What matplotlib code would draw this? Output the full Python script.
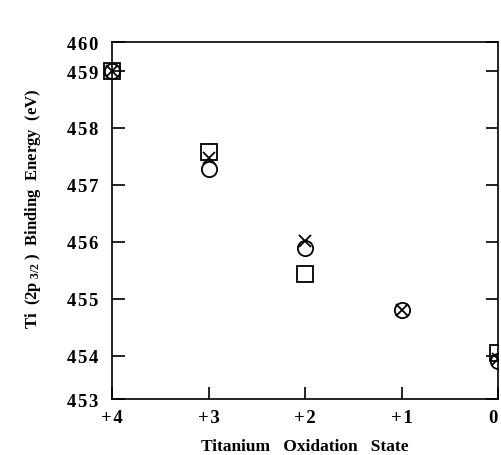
import matplotlib
matplotlib.use('Agg')
import matplotlib.pyplot as plt

# oxidation states and Ti 2p3/2 binding energies (eV)
states = [4, 3, 2, 1, 0]
circle_vals = [459.0, 457.28, 455.9, 454.8, 453.9]
square_vals = [459.0, 457.57, 455.44, None, 454.05]
cross_vals = [459.0, 457.47, 456.02, 454.8, 453.95]

x_ticks = [4, 3, 2, 1, 0]
x_labels = ['+4', '+3', '+2', '+1', '0']
y_ticks = [453.24, 454, 455, 456, 457, 458, 459, 459.51]
y_labels = ['453', '454', '455', '456', '457', '458', '459', '460']

plt.rcParams['font.family'] = ['Liberation Serif', 'DejaVu Serif']
plt.rcParams['font.weight'] = 'bold'
plt.rcParams['axes.labelweight'] = 'bold'
plt.rcParams['mathtext.fontset'] = 'custom'
plt.rcParams['mathtext.rm'] = 'Liberation Serif:bold'
plt.rcParams['mathtext.it'] = 'Liberation Serif:bold'


def spaced(s):
    # the original typesetting is slightly letter-spaced
    return '\u200a'.join(s)


fig = plt.figure(figsize=(5.01, 4.56), dpi=100)
ax = fig.add_axes([0.2236, 0.1228, 0.7705, 0.7829])

for vals, mk, ms in [(circle_vals, 'o', 11), (square_vals, 's', 11), (cross_vals, 'x', 9)]:
    xs = [s for s, v in zip(states, vals) if v is not None]
    ys = [v for v in vals if v is not None]
    # left-most points sit on the spine and are not clipped
    ax.plot(xs[:-1], ys[:-1], linestyle='none', marker=mk, markersize=ms,
            markerfacecolor='none', markeredgecolor='black', markeredgewidth=1.3,
            clip_on=False, zorder=3)
    # the 0 state points are cut by the right spine
    ax.plot(xs[-1:], ys[-1:], linestyle='none', marker=mk, markersize=ms,
            markerfacecolor='none', markeredgecolor='black', markeredgewidth=1.3,
            clip_on=True, zorder=3)

ax.set_xlim(4, 0)
ax.set_ylim(453.24, 459.51)
ax.set_xticks(x_ticks)
ax.set_xticklabels([spaced(t) for t in x_labels])
ax.set_yticks(y_ticks)
ax.set_yticklabels([spaced(t) for t in y_labels])
# keep the "0" label inside the figure, left of the right spine
ax.get_xticklabels()[-1].set_horizontalalignment('right')

for s in ax.spines.values():
    s.set_linewidth(1.2)
ax.tick_params(axis='both', direction='in', length=9, width=1.2, labelsize=13.5)
ax.tick_params(axis='y', right=True, pad=10)
ax.tick_params(axis='x', pad=7)

ax.set_xlabel('Titanium   Oxidation   State', fontsize=12.5, labelpad=9)
ax.set_ylabel(r'Ti  (2p$_{\ 3/2}$ )  Binding  Energy  (eV)', fontsize=12)
ax.yaxis.set_label_coords(-0.18, 0.535)

fig.savefig('out.png', dpi=100)
